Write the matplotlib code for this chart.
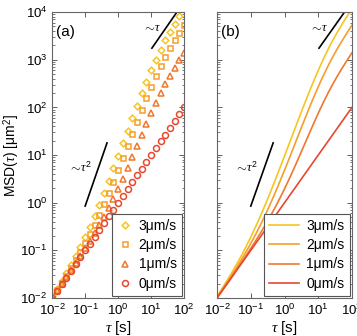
import matplotlib
matplotlib.use("Agg")
import matplotlib.pyplot as plt
import numpy as np

plt.rcParams['font.family'] = ['Liberation Sans', 'DejaVu Sans']
plt.rcParams['mathtext.fontset'] = 'custom'
plt.rcParams['mathtext.rm'] = 'Liberation Sans'
plt.rcParams['mathtext.it'] = 'Liberation Serif:italic'

# lag times [s]
tau = [0.01, 0.01389, 0.01931, 0.02683, 0.03728, 0.05179, 0.07197,
       0.1, 0.1389, 0.1931, 0.2683, 0.3728, 0.5179, 0.7197,
       1, 1.389, 1.931, 2.683, 3.728, 5.179, 7.197,
       10, 13.89, 19.31, 26.83, 37.28, 51.79, 71.97, 100]

# MSD [um^2], per swimming speed
msd_3 = [0.0109, 0.0156, 0.0227, 0.0333, 0.0498, 0.0759, 0.1186,
         0.190, 0.312, 0.526, 0.908, 1.60, 2.88, 5.23,
         9.59, 17.7, 32.6, 59.9, 109.3, 196.6, 347.5,
         599.4, 1003, 1626, 2545, 3857, 5696, 8258, 11818]
msd_2 = [0.0104, 0.0147, 0.0208, 0.0297, 0.0429, 0.0625, 0.0927,
         0.140, 0.216, 0.341, 0.552, 0.919, 1.566, 2.73,
         4.82, 8.62, 15.6, 28.1, 50.6, 90.3, 158.4,
         272, 453.6, 733.5, 1146, 1735, 2560, 3710, 5308]
msd_1 = [0.0101, 0.0141, 0.0197, 0.0275, 0.0387, 0.0545, 0.0772,
         0.110, 0.158, 0.230, 0.339, 0.510, 0.780, 1.22,
         1.95, 3.20, 5.34, 9.05, 15.5, 26.4, 45.0,
         75.5, 123.8, 197.9, 306.5, 461.7, 678.9, 981.6, 1402]
msd_0 = [0.01, 0.0139, 0.0193, 0.0268, 0.0373, 0.0518, 0.072,
         0.1, 0.139, 0.193, 0.268, 0.373, 0.518, 0.72,
         1, 1.39, 1.93, 2.68, 3.73, 5.18, 7.2,
         10, 13.9, 19.3, 26.8, 37.3, 51.8, 72, 100]

labels = ['3μm/s', '2μm/s', '1μm/s', '0μm/s']
series = [msd_3, msd_2, msd_1, msd_0]
colors = ['#F6C524', '#F59E2C', '#F0782E', '#E6482F']
markers = ['D', 's', '^', 'o']
msizes = [3.4, 3.6, 4.2, 4.3]

# guide lines for the scaling laws
ballistic_x = [0.1, 0.46]
ballistic_y = [0.85, 18.0]
diffusive_x = [10.5, 60]
diffusive_y = [1750, 10000]

fig = plt.figure(figsize=(3.57, 3.36), dpi=100)
ax_a = fig.add_axes([0.146, 0.113, 0.370, 0.851])
ax_b = fig.add_axes([0.608, 0.113, 0.378, 0.851])

for y, c, m, ms, lab in zip(series, colors, markers, msizes, labels):
    ax_a.plot(tau, y, linestyle='none', marker=m, ms=ms, mfc='none',
              mec=c, mew=1.1, label=lab)
    ax_b.plot(tau, y, color=c, lw=1.2, label=lab)

for ax, name in [(ax_a, '(a)'), (ax_b, '(b)')]:
    ax.set_xscale('log')
    ax.set_yscale('log')
    ax.set_xlim(1e-2, 1e2)
    ax.set_ylim(1e-2, 1e4)
    ax.set_xticks([1e-2, 1e-1, 1e0, 1e1, 1e2])
    ax.set_yticks([1e-2, 1e-1, 1e0, 1e1, 1e2, 1e3, 1e4])
    ax.tick_params(which='both', direction='in', top=True, right=True,
                   labelsize=9.5, colors='#444444', labelcolor='black')
    ax.tick_params(which='major', length=3.5, width=0.6)
    ax.tick_params(which='minor', length=1.8, width=0.5)
    for s in ax.spines.values():
        s.set_color('#666666')
        s.set_linewidth(0.8)
    ax.plot(ballistic_x, ballistic_y, color='black', lw=1.2)
    ax.plot(diffusive_x, diffusive_y, color='black', lw=1.2)
    ax.text(0.075, 5.3, r'$\sim\!\tau^2$', fontsize=9, ha='center', va='center')
    ax.text(11.0, 4600, r'$\sim\!\tau$', fontsize=9, ha='center', va='center')
    ax.text(0.03, 0.955, name, transform=ax.transAxes, fontsize=11,
            ha='left', va='top')
    ax.set_xlabel(r'$\tau$ [s]', fontsize=11, labelpad=1)
    leg = ax.legend(loc='lower right', fontsize=10, fancybox=False,
                    framealpha=1, edgecolor='#555555', borderaxespad=0.15,
                    handlelength=1.0 if ax is ax_a else 2.2,
                    handletextpad=0.5, labelspacing=0.38, borderpad=0.38)
    leg.get_frame().set_linewidth(0.8)

ax_a.set_ylabel(r'MSD($\tau$) [$\mathrm{\mu m}^2$]', fontsize=10, labelpad=0)
ax_a.yaxis.set_label_coords(-0.225, 0.5)
ax_b.set_yticklabels([])

fig.savefig('out.png', dpi=100)
